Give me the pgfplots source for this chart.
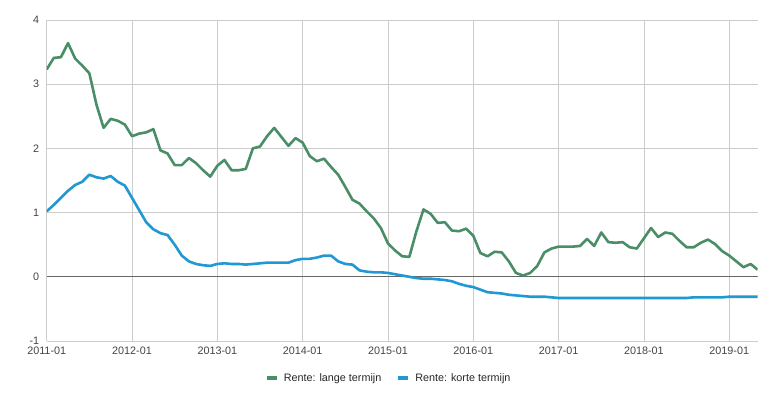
\documentclass[border=0pt]{standalone}
\usepackage{fontspec}
\setmainfont{Liberation Sans}
\usepackage{pgfplots}
\usepackage{pgfplotstable}
\pgfplotsset{compat=1.18}
\definecolor{lang}{HTML}{4A8E68}
\definecolor{kort}{HTML}{1F98D3}
\definecolor{gridc}{HTML}{CCCCCC}
\definecolor{tickc}{HTML}{444444}
\definecolor{zeroc}{HTML}{666666}

\pgfplotstableread{
m lang kort
0 3.23 1.02
1 3.41 1.12
2 3.42 1.23
3 3.64 1.34
4 3.40 1.43
5 3.29 1.48
6 3.17 1.59
7 2.68 1.55
8 2.32 1.53
9 2.46 1.57
10 2.43 1.48
11 2.37 1.42
12 2.19 1.23
13 2.23 1.04
14 2.25 0.85
15 2.30 0.74
16 1.97 0.68
17 1.92 0.65
18 1.74 0.50
19 1.74 0.33
20 1.85 0.24
21 1.77 0.20
22 1.66 0.18
23 1.56 0.17
24 1.73 0.20
25 1.82 0.21
26 1.66 0.20
27 1.66 0.20
28 1.68 0.19
29 2.00 0.20
30 2.03 0.21
31 2.19 0.22
32 2.32 0.22
33 2.18 0.22
34 2.04 0.22
35 2.16 0.26
36 2.09 0.28
37 1.88 0.28
38 1.80 0.30
39 1.84 0.33
40 1.71 0.33
41 1.59 0.24
42 1.40 0.20
43 1.20 0.19
44 1.14 0.10
45 1.02 0.08
46 0.91 0.07
47 0.76 0.07
48 0.52 0.06
49 0.41 0.04
50 0.32 0.02
51 0.31 0.00
52 0.71 -0.02
53 1.05 -0.03
54 0.98 -0.03
55 0.84 -0.04
56 0.85 -0.05
57 0.72 -0.07
58 0.71 -0.11
59 0.75 -0.14
60 0.64 -0.16
61 0.37 -0.20
62 0.32 -0.24
63 0.39 -0.25
64 0.38 -0.26
65 0.24 -0.28
66 0.06 -0.29
67 0.02 -0.30
68 0.06 -0.31
69 0.17 -0.31
70 0.38 -0.31
71 0.44 -0.32
72 0.47 -0.33
73 0.47 -0.33
74 0.47 -0.33
75 0.48 -0.33
76 0.59 -0.33
77 0.48 -0.33
78 0.69 -0.33
79 0.54 -0.33
80 0.53 -0.33
81 0.54 -0.33
82 0.46 -0.33
83 0.44 -0.33
84 0.60 -0.33
85 0.76 -0.33
86 0.62 -0.33
87 0.69 -0.33
88 0.67 -0.33
89 0.56 -0.33
90 0.46 -0.33
91 0.46 -0.32
92 0.53 -0.32
93 0.58 -0.32
94 0.51 -0.32
95 0.40 -0.32
96 0.33 -0.31
97 0.24 -0.31
98 0.15 -0.31
99 0.20 -0.31
100 0.11 -0.31
}\data

\begin{document}
\begin{tikzpicture}
\begin{axis}[
  name=ax,
  scale only axis,
  width=711pt, height=321pt,
  xmin=0, xmax=100, ymin=-1, ymax=4,
  xtick={0,12,...,96},
  xticklabels={2011-01,2012-01,2013-01,2014-01,2015-01,2016-01,2017-01,2018-01,2019-01},
  ytick={-1,0,...,4},
  grid=major,
  major grid style={draw=gridc, line width=0.8pt},
  axis line style={draw=none},
  major tick length=0pt,
  tick label style={font=\fontsize{10.8}{12}\selectfont, text=tickc},
  yticklabel style={anchor=east, xshift=-4pt},
  xticklabel style={anchor=north, yshift=-2pt},
  /pgf/number format/assume math mode=true,
  legend columns=2,
  legend style={at={(0.5,-0.115)}, xshift=-13.5pt, anchor=center, draw=none, fill=none,
    font=\fontsize{10.8}{12}\selectfont, text=black!85,
    /tikz/every even column/.append style={column sep=13pt}},
  legend image code/.code={\draw[#1, line width=3.5pt] (0pt,0pt) -- (10pt,0pt); \path[draw=none,fill=none] (15pt,0pt) circle (0.1pt);},
]
\draw[zeroc, line width=1.2pt] (axis cs:0,0) -- (axis cs:100,0);
\addplot[lang, line width=2.6pt, line join=round] table[x=m, y=lang] {\data};
\addlegendentry{Rente: lange termijn}
\addplot[kort, line width=2.6pt, line join=round] table[x=m, y=kort] {\data};
\addlegendentry{Rente: korte termijn}
\end{axis}
\pgfresetboundingbox
\path[use as bounding box] ([shift={(-46.7pt,-58pt)}]ax.south west) rectangle ([shift={(22.3pt,20pt)}]ax.north east);
\end{tikzpicture}
\end{document}
